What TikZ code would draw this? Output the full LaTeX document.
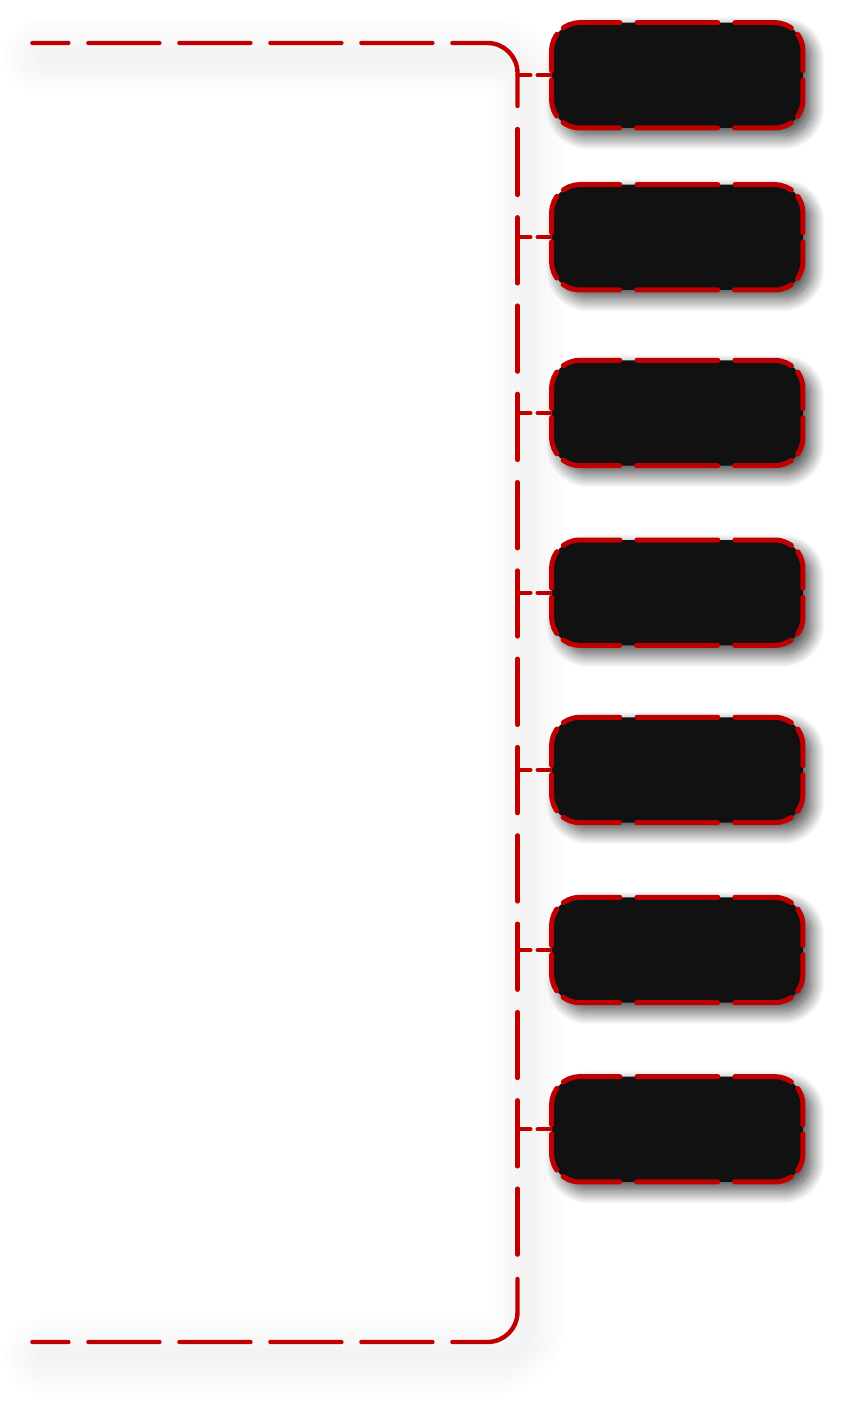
\documentclass[tikz,border=0pt]{standalone}
\usepackage{tikz}
\usetikzlibrary{shadows.blur}

\definecolor{edgered}{HTML}{C00000}
\definecolor{boxfill}{HTML}{111111}

\begin{document}
\begin{tikzpicture}[x=1pt, y=-1pt,
  bracket/.style={draw=edgered, line width=4.4pt, line cap=round},
  armdash/.style={dash pattern=on 36pt off 20pt on 71pt off 20pt on 71pt off 20pt on 71pt off 20pt on 71pt off 20pt on 300pt off 10pt},
  glow/.style={draw=black, opacity=0.009, line cap=round, rounded corners=30pt},
  box/.style={fill=boxfill, minimum width=251.3pt, minimum height=105.3pt,
    rounded corners=28pt, inner sep=0pt, outer sep=0pt,
    blur shadow={shadow xshift=8pt, shadow yshift=-8pt, shadow blur radius=14pt,
      shadow blur steps=30, shadow opacity=75}},
  boxedge/.style={draw=edgered, line width=5pt, line cap=round, rounded corners=28pt,
    dash pattern=on 37.65pt off 9pt on 57.65pt off 17pt on 81pt off 17pt on 57.7pt off 9pt on 37.6pt off 9pt},
  link/.style={draw=edgered, line width=4pt, line cap=round, dash pattern=on 13pt off 7pt}]
  \useasboundingbox (0,0) rectangle (846,1406);

  % Soft shadow under the bracket
  \foreach \w in {74,62,50,38,26,14}
    \draw[glow, line width=\w pt] (42,57) -| (527,1356) -- (42,1356);

  % Bracket: two arms and the spine
  \draw[bracket, armdash, rounded corners=30pt] (32.4,43) -| (517.5,106);
  \draw[bracket, armdash, rounded corners=30pt] (32.4,1342) -| (517.5,1279);
  \draw[bracket, dash pattern=on 66pt off 22.3pt] (517.5,129) -- (517.5,1257);

  % Boxes hanging off the spine
  \foreach \i/\y in {1/75.3, 2/237.3, 3/413, 4/592.7, 5/770, 6/950, 7/1129.3} {
    \node[box] (box\i) at (677.3,\y) {};
    \coordinate (tap\i) at (517.5,\y);
    \draw[boxedge] ([yshift=4.5pt]box\i.west) |- (box\i.north east) |- (box\i.south west) -- ([yshift=-4.5pt]box\i.west);
    \draw[link] (tap\i) -- (box\i.west);
  }

\end{tikzpicture}
\end{document}
